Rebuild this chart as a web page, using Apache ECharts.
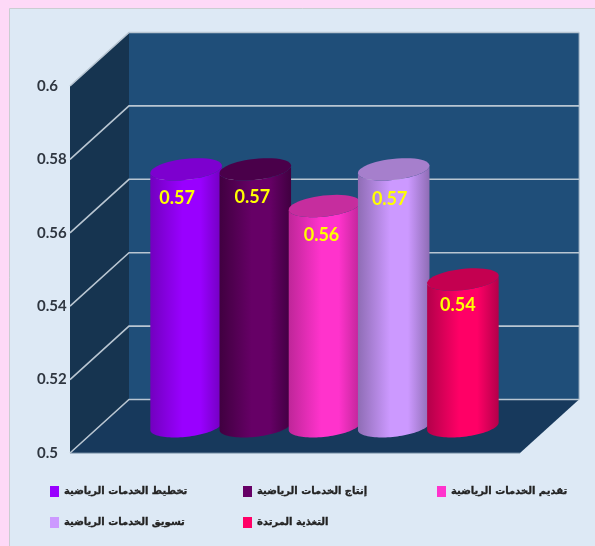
<!DOCTYPE html>
<html>
<head>
<meta charset="utf-8">
<style>html,body{margin:0;padding:0;background:#fdd9f7}#c{width:595px;height:546px}</style>
<script src="https://cdn.jsdelivr.net/npm/echarts@6/dist/echarts.min.js"></script>
</head>
<body>
<div id="c"></div>
<script>
// Dimension scores
const names = ['تخطيط الخدمات الرياضية', 'إنتاج الخدمات الرياضية', 'تقديم الخدمات الرياضية', 'تسويق الخدمات الرياضية', 'التغذية المرتدة'];
const values = [0.57, 0.57, 0.56, 0.57, 0.54];
const ticks = [0.5, 0.52, 0.54, 0.56, 0.58, 0.6];

// Palette for each cylinder: body, shaded edge, cap
const bodyColors = ['#9900ff', '#660066', '#ff33cc', '#cc99ff', '#ff0066'];
const edgeColors = ['#7200bf', '#400040', '#bf2699', '#8f6db5', '#b3004a'];
const capColors = ['#7d00cf', '#4a004a', '#c62d9e', '#a67fcc', '#c40050'];

// Box depth and cylinder proportions
const DEPTH_X = 59, DEPTH_Y = 53.5;
const STEP = 69.2, RX = 36, RY = 10.5, TILT = 6.5 * Math.PI / 180;
const labelShift = [[-9, 29], [-3, 28], [-3, 29], [-4, 30], [-5, 26]];

function wallsItem(params, api) {
  const cs = params.coordSys;
  const l = cs.x, r = cs.x + cs.width;
  const top = api.coord([0, 0.6])[1], bot = api.coord([0, 0.5])[1];
  const poly = (pts, fill) => ({ type: 'polygon', shape: { points: pts }, style: { fill: fill } });
  return {
    type: 'group',
    children: [
      poly([[l + DEPTH_X, top - DEPTH_Y], [r + DEPTH_X, top - DEPTH_Y], [r + DEPTH_X, bot - DEPTH_Y], [l + DEPTH_X, bot - DEPTH_Y]], '#1f4e79'),
      poly([[l, top], [l + DEPTH_X, top - DEPTH_Y], [l + DEPTH_X, bot - DEPTH_Y], [l, bot]], '#163450'),
      poly([[l, bot], [r, bot], [r + DEPTH_X, bot - DEPTH_Y], [l + DEPTH_X, bot - DEPTH_Y]], '#17395c'),
      {
        type: 'line',
        shape: { x1: r + DEPTH_X, y1: top - DEPTH_Y, x2: r + DEPTH_X, y2: bot - DEPTH_Y },
        style: { stroke: '#8ea3b8', lineWidth: 1 }
      },
      {
        type: 'line',
        shape: { x1: l, y1: bot, x2: r, y2: bot },
        style: { stroke: '#6f879e', lineWidth: 1 }
      }
    ]
  };
}

function tickLine(params, api) {
  const cs = params.coordSys;
  const l = cs.x, r = cs.x + cs.width;
  const y = api.coord([0, api.value(1)])[1];
  return {
    type: 'polyline',
    shape: { points: [[l, y], [l + DEPTH_X, y - DEPTH_Y], [r + DEPTH_X, y - DEPTH_Y]] },
    style: { fill: null, stroke: '#b9c6d2', lineWidth: 1.6 }
  };
}

// Walks a tilted ellipse around (cx, cy) from angle t0 to t1, in radians
function ellipseArc(cx, cy, t0, t1) {
  const pts = [];
  for (let k = 0; k <= 48; k++) {
    const t = t0 + (t1 - t0) * k / 48;
    const u = RX * Math.cos(t), v = RY * Math.sin(t);
    pts.push([cx + u * Math.cos(TILT) + v * Math.sin(TILT), cy - u * Math.sin(TILT) + v * Math.cos(TILT)]);
  }
  return pts;
}

function cylinderItem(i) {
  return function (params, api) {
    const base = api.coord([api.value(0), 0.5]);
    const head = api.coord([api.value(0), api.value(1)]);
    const cx = base[0] + DEPTH_X / 2 + (i - 2) * STEP;
    const yb = base[1] - DEPTH_Y / 2, yt = head[1] - DEPTH_Y / 2;
    const bodyFill = new echarts.graphic.LinearGradient(0, 0, 1, 0, [
      { offset: 0, color: edgeColors[i] },
      { offset: 0.45, color: bodyColors[i] },
      { offset: 0.7, color: bodyColors[i] },
      { offset: 1, color: edgeColors[i] }
    ]);
    const bodyPts = ellipseArc(cx, yb, Math.PI, 0).concat(ellipseArc(cx, yt, 0, Math.PI));
    return {
      type: 'group',
      children: [
        { type: 'polygon', shape: { points: bodyPts }, style: { fill: bodyFill } },
        { type: 'polygon', shape: { points: ellipseArc(cx, yt, 0, Math.PI * 2) }, style: { fill: capColors[i] } },
        {
          type: 'text',
          x: cx + labelShift[i][0], y: yt + labelShift[i][1],
          style: {
            text: values[i].toFixed(2), fill: '#ffff00',
            font: 'bold 18px "Lato"', align: 'center', verticalAlign: 'middle'
          }
        }
      ]
    };
  };
}

const legendSlots = [[50, 486], [243, 486], [437, 486], [50, 517], [243, 517]];

const option = {
  animation: false,
  backgroundColor: '#fdd9f7',
  graphic: [{
    type: 'rect', silent: true, z: -1,
    shape: { x: 9.5, y: 8.5, width: 590, height: 542 },
    style: { fill: '#dde9f5', stroke: '#c9cdd2', lineWidth: 1 }
  }],
  grid: { left: 70, right: 75, top: 86, bottom: 93 },
  xAxis: { type: 'category', data: [''], axisLine: { show: false }, axisTick: { show: false }, axisLabel: { show: false } },
  yAxis: {
    type: 'value', min: 0.5, max: 0.6, interval: 0.02,
    axisLine: { show: false }, axisTick: { show: false }, splitLine: { show: false },
    axisLabel: {
      align: 'left', margin: 33, color: '#2f3640',
      fontFamily: 'Lato', fontWeight: 'bold', fontSize: 15,
      padding: [3, 0, 0, 0],
      formatter: v => String(+v.toFixed(2))
    }
  },
  legend: names.map((n, i) => ({
    data: [n], left: legendSlots[i][0], top: legendSlots[i][1],
    icon: 'rect', itemWidth: 9, itemHeight: 11, itemGap: 1, padding: 0,
    selectedMode: false,
    textStyle: {
      fontFamily: 'DejaVu Sans', fontWeight: 'bold', fontSize: 10, color: '#222',
      textBorderColor: '#222', textBorderWidth: 0.3
    }
  })),
  series: [
    { type: 'custom', silent: true, data: [[0, 0.5]], renderItem: wallsItem, z: 1 },
    { type: 'custom', silent: true, data: ticks.map(t => [0, t]), renderItem: tickLine, z: 1 }
  ].concat(names.map((n, i) => ({
    type: 'custom', name: n, silent: true, z: 2,
    itemStyle: { color: bodyColors[i] },
    data: [[0, values[i]]],
    renderItem: cylinderItem(i)
  })))
};

echarts.init(document.getElementById('c'), null, { renderer: 'canvas' }).setOption(option);
</script>
</body>
</html>
